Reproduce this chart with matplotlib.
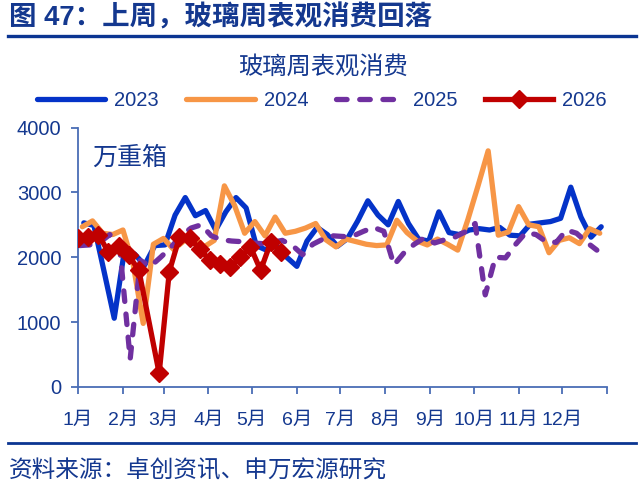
import numpy as np
import pandas as pd
import matplotlib
matplotlib.use("Agg")
import matplotlib.pyplot as plt
from matplotlib.lines import Line2D

plt.rcParams['font.family'] = ['Liberation Sans', 'Noto Sans CJK SC', 'DejaVu Sans']

# ---------------- data ----------------
months = ["1月", "2月", "3月", "4月", "5月", "6月", "7月", "8月", "9月", "10月", "11月", "12月"]
series_names = ["2023", "2024", "2025", "2026"]
start_dates = ["2023-01-05", "2024-01-04", "2025-01-02", "2026-01-01"]

v2023 = [2530, 2490, 1780, 1060, 2100, 2050, 1880, 2180, 2190, 2650,
         2920, 2640, 2720, 2420, 2700, 2920, 2760, 2180, 2110, 2180,
         2000, 1860, 2250, 2460, 2350, 2170, 2290, 2560, 2870, 2650,
         2500, 2860, 2520, 2280, 2250, 2700, 2380, 2350, 2420, 2440,
         2420, 2460, 2340, 2330, 2510, 2530, 2550, 2600, 3080, 2620,
         2310, 2470]
v2024 = [2470, 2560, 2370, 2350, 2420, 1900, 980, 2200, 2290, 2120,
         2250, 2320, 2160, 2260, 3100, 2800, 2370, 2550, 2330, 2620,
         2370, 2400, 2450, 2520, 2270, 2160, 2280, 2240, 2200, 2180,
         2190, 2570, 2380, 2250, 2190, 2280, 2200, 2110, 2580, 3100,
         3640, 2340, 2390, 2780, 2500, 2470, 2070, 2260, 2300, 2210,
         2440, 2370]
v2025 = [2180, 2190, 2230, 2350, 2100, 430, 1950, 1860, 2000, 2150,
         2330, 2450, 2500, 2330, 2270, 2250, 2240, 2220, 2210, 2230,
         2260, 2180, 2040, 2200, 2280, 2330, 2320, 2330, 2400, 2460,
         2400, 1880, 2070, 2200, 2300, 2220, 2270, 2310, 2390, 2520,
         1420, 2000, 1990, 2200, 2380, 2350, 2240, 2230, 2420, 2370,
         2230, 2110]
v2026 = [2300, 2310, 2350, 2080, 2170, 2030, 1800, np.nan, 210, 1780,
         2310, 2290, 2130, 1950, 1890, 1850, 2000, 2160, 1800, 2230,
         2080]

# ---------------- style ----------------
W, H = 644, 501
navy = "#14388F"
axis_col = "#4A6DB5"
colors = ["#0433C8", "#F79646", "#7030A0", "#C00000"]

fig = plt.figure(figsize=(W / 100, H / 100), dpi=100)
ax = fig.add_axes([78 / W, 1 - 387 / H, (607 - 78) / W, (387 - 127.5) / H])


def day_positions(start, n):
    d = pd.date_range(start, periods=n, freq="7D")
    return np.array([(x - pd.Timestamp(x.year, 1, 1)).days for x in d], dtype=float)


all_vals = [v2023, v2024, v2025, v2026]
handles = []
for i, (name, st, vals) in enumerate(zip(series_names, start_dates, all_vals)):
    vals = np.array(vals, dtype=float)
    xs = day_positions(st, len(vals))
    m = ~np.isnan(vals)
    xs, vals = xs[m], vals[m]
    if name == "2025":
        ln, = ax.plot(xs, vals, color=colors[i], lw=3.8, dashes=(2.0, 2.4),
                      dash_capstyle="round", solid_capstyle="round", label=name, zorder=3 + i)
    elif name == "2026":
        ln, = ax.plot(xs, vals, color=colors[i], lw=3.8, marker="D", ms=9,
                      solid_joinstyle="round", label=name, zorder=3 + i)
    else:
        ln, = ax.plot(xs, vals, color=colors[i], lw=3.8, solid_joinstyle="round",
                      solid_capstyle="round", label=name, zorder=3 + i)
    handles.append(ln)

ref = pd.Timestamp(2023, 1, 1)
month_starts = [(pd.Timestamp(2023, m, 1) - ref).days for m in range(1, 13)] + [365]
ax.set_xlim(0, 365)
ax.set_ylim(0, 4000)
ax.set_xticks(month_starts)
ax.set_xticklabels(months + [""])
ax.set_yticks([0, 1000, 2000, 3000, 4000])

for s in ["top", "right"]:
    ax.spines[s].set_visible(False)
for s in ["left", "bottom"]:
    ax.spines[s].set_color(axis_col)
    ax.spines[s].set_linewidth(1.3)
ax.tick_params(axis="both", colors=axis_col, length=5, width=1.3, labelcolor=navy)
ax.tick_params(axis="y", labelsize=14.5, pad=7)
ax.tick_params(axis="x", labelsize=14, pad=13)

# unit label
fig.text(92 / W, 1 - 158 / H, "万重箱", fontsize=18, color=navy, va="center", ha="left")

# legend
leg = fig.legend(handles=handles, labels=series_names, loc="center",
                 bbox_to_anchor=(322 / W, 1 - 101 / H), ncol=4, frameon=False,
                 fontsize=14.5, handlelength=3.4, handletextpad=0.45, columnspacing=1.35,
                 labelcolor=navy)

# chart title
fig.text(323 / W, 1 - 68 / H, "玻璃周表观消费", fontsize=17.5, color=navy, ha="center", va="center")

# figure title
fig.text(9 / W, 1 - 18 / H, "图 47：上周，玻璃周表观消费回落", fontsize=19.8, fontweight="bold",
         color=navy, ha="left", va="center")
fig.add_artist(Line2D([8 / W, 636 / W], [1 - 35.5 / H, 1 - 35.5 / H], color="#0B3592", lw=2.4))
fig.add_artist(Line2D([8 / W, 636 / W], [1 - 443 / H, 1 - 443 / H], color="#0B3592", lw=2.0))

# source
fig.text(9 / W, 1 - 471 / H, "资料来源：卓创资讯、申万宏源研究", fontsize=17, color=navy,
         ha="left", va="center")

fig.savefig("out.png", dpi=100)
